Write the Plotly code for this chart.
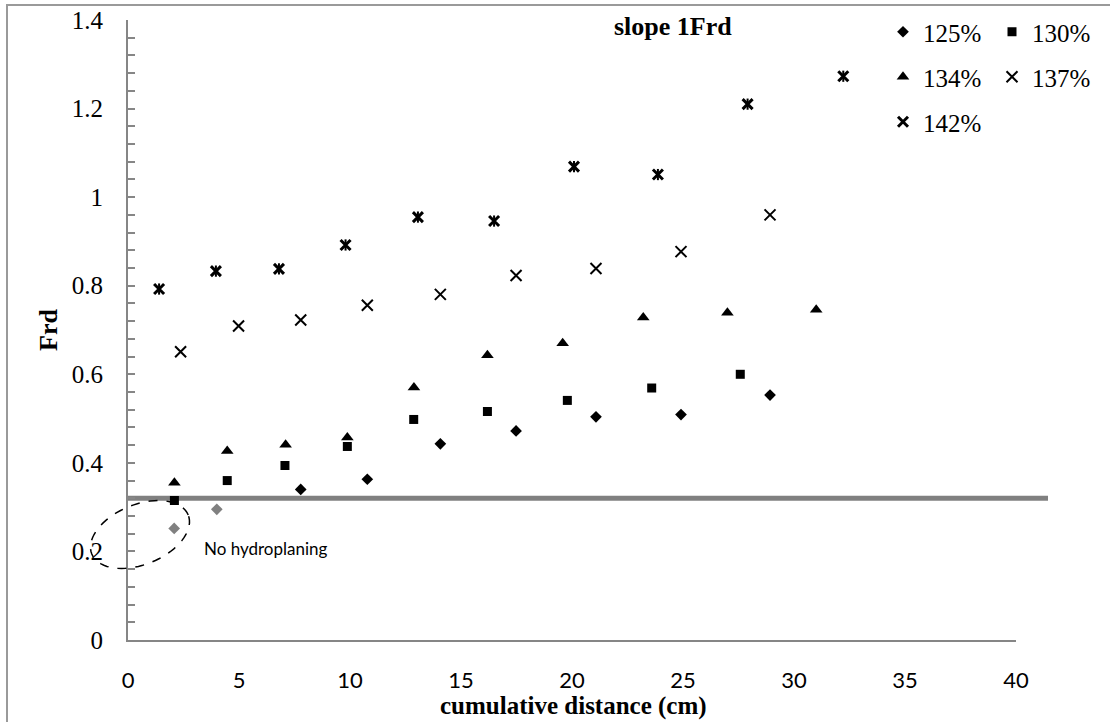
import math
import plotly.graph_objects as go

# ---------------- data ----------------
x125 = [2.08, 4.0, 7.78, 10.78, 14.07, 17.48, 21.08, 24.91, 28.92]
y125 = [0.252, 0.295, 0.340, 0.363, 0.443, 0.472, 0.504, 0.509, 0.553]
hydro125 = [False, False, True, True, True, True, True, True, True]

x130 = [2.09, 4.47, 7.07, 9.88, 12.87, 16.19, 19.79, 23.59, 27.58]
y130 = [0.315, 0.360, 0.394, 0.437, 0.498, 0.516, 0.541, 0.569, 0.600]

x134 = [2.09, 4.47, 7.10, 9.88, 12.88, 16.19, 19.58, 23.21, 27.00, 31.00]
y134 = [0.355, 0.427, 0.441, 0.457, 0.570, 0.643, 0.670, 0.728, 0.739, 0.746]

x137 = [2.37, 4.98, 7.78, 10.78, 14.07, 17.48, 21.08, 24.91, 28.92]
y137 = [0.651, 0.709, 0.7225, 0.756, 0.7805, 0.823, 0.839, 0.877, 0.960]

x142 = [1.40, 3.96, 6.80, 9.80, 13.06, 16.49, 20.09, 23.87, 27.91, 32.22]
y142 = [0.7925, 0.833, 0.838, 0.892, 0.955, 0.946, 1.069, 1.051, 1.210, 1.273]

threshold = 0.32

x_range = [0, 40]
y_range = [0, 1.4]

# ---------------- layout geometry ----------------
W, H = 1110, 722
ML, MR, MT, MB = 128, 94, 20, 82
PW, PH = W - ML - MR, H - MT - MB


def px2paper(px, py):
    return (px - ML) / PW, (H - MB - py) / PH


SERIF = "Liberation Serif, Times New Roman, serif"
SANS = "Lato, Calibri, sans-serif"

fig = go.Figure()

# 125 % : no-hydroplaning points in gray
fig.add_trace(go.Scatter(
    x=[x for x, h in zip(x125, hydro125) if not h],
    y=[y for y, h in zip(y125, hydro125) if not h],
    mode="markers", showlegend=False, hoverinfo="skip",
    marker=dict(symbol="diamond", size=9, color="#808080"),
))
fig.add_trace(go.Scatter(
    x=[x for x, h in zip(x125, hydro125) if h],
    y=[y for y, h in zip(y125, hydro125) if h],
    mode="markers", name="125%", legend="legend",
    marker=dict(symbol="diamond", size=9, color="black"),
))
fig.add_trace(go.Scatter(
    x=x130, y=y130, mode="markers", name="130%", legend="legend",
    marker=dict(symbol="square", size=9, color="black"),
))
fig.add_trace(go.Scatter(
    x=x134, y=y134, mode="markers", name="134%", legend="legend2",
    marker=dict(symbol="triangle-up", size=11, color="black"),
))
fig.add_trace(go.Scatter(
    x=x137, y=y137, mode="markers", name="137%", legend="legend2",
    marker=dict(symbol="x-thin-open", size=11, color="black",
                line=dict(color="black", width=2)),
))
fig.add_trace(go.Scatter(
    x=x142, y=y142, mode="markers", name="142%", legend="legend3",
    marker=dict(symbol="x-thin-open", size=10, color="black",
                line=dict(color="black", width=3)),
))
fig.add_trace(go.Scatter(
    x=x142, y=y142, mode="markers", showlegend=False, hoverinfo="skip",
    marker=dict(symbol="line-ns-open", size=8, color="black",
                line=dict(color="black", width=2)),
))

# ---------------- shapes ----------------
shapes = []
# outer chart frame
fx0, fy0 = px2paper(7, 730)
fx1, fy1 = px2paper(1125, 5)
shapes.append(dict(type="rect", xref="paper", yref="paper",
                   x0=fx0, y0=fy0, x1=fx1, y1=fy1,
                   line=dict(color="#9a9a9a", width=2), layer="below"))
# threshold line
lx1, _ = px2paper(1048, 0)
shapes.append(dict(type="line", xref="paper", yref="y",
                   x0=0, x1=lx1, y0=threshold, y1=threshold,
                   line=dict(color="#808080", width=5), layer="below"))
# dashed tilted ellipse around no-hydroplaning points
cx, cy, a, b, th = 140, 534.5, 52, 30, math.radians(22)
pts = []
for i in range(73):
    t = 2 * math.pi * i / 72
    ex = a * math.cos(t)
    ey = b * math.sin(t)
    px = cx + ex * math.cos(th) - ey * math.sin(th)
    py = cy - (ex * math.sin(th) + ey * math.cos(th))
    pts.append(px2paper(px, py))
path = "M " + " L ".join(f"{p[0]:.5f},{p[1]:.5f}" for p in pts) + " Z"
shapes.append(dict(type="path", xref="paper", yref="paper", path=path,
                   line=dict(color="black", width=1.5, dash="dash")))

# ---------------- annotations ----------------
ann = []
tx, ty = px2paper(673, 27)
ann.append(dict(text="<b>slope 1Frd</b>", x=tx, y=ty, xref="paper", yref="paper",
                showarrow=False, font=dict(family=SERIF, size=26, color="black"),
                xanchor="center", yanchor="middle"))
tx, ty = px2paper(573, 706)
ann.append(dict(text="<b>cumulative distance (cm)</b>", x=tx, y=ty, xref="paper",
                yref="paper", showarrow=False,
                font=dict(family=SERIF, size=25, color="black"),
                xanchor="center", yanchor="middle"))
tx, ty = px2paper(48, 330)
ann.append(dict(text="<b>Frd</b>", x=tx, y=ty, xref="paper", yref="paper",
                showarrow=False, textangle=-90,
                font=dict(family=SERIF, size=26, color="black"),
                xanchor="center", yanchor="middle"))
tx, ty = px2paper(202, 548)
ann.append(dict(text="No hydroplaning", x=tx, y=ty, xref="paper", yref="paper",
                showarrow=False, font=dict(family=SANS, size=17, color="black"),
                xanchor="left", yanchor="middle"))

# ---------------- legends ----------------
def legend_at(row_py):
    lx, ly = px2paper(883, row_py)
    return dict(orientation="h", x=lx, y=ly, xanchor="left", yanchor="middle",
                entrywidth=64, entrywidthmode="pixels",
                font=dict(family=SERIF, size=25, color="black"),
                bgcolor="rgba(0,0,0,0)", borderwidth=0, itemwidth=30)


fig.update_layout(
    width=W, height=H,
    margin=dict(l=ML, r=MR, t=MT, b=MB, autoexpand=False),
    paper_bgcolor="white", plot_bgcolor="white",
    showlegend=True,
    legend=legend_at(32),
    legend2=legend_at(77),
    legend3=legend_at(122),
    shapes=shapes,
    annotations=ann,
    xaxis=dict(range=x_range, dtick=5, tick0=0, showgrid=False, zeroline=False,
               showline=True, linecolor="#868686", linewidth=2, ticks="",
               tickfont=dict(family=SANS, size=22, color="black"),
               ticklabelstandoff=20, automargin=False),
    yaxis=dict(range=y_range, dtick=0.2, tick0=0, showgrid=False, zeroline=False,
               showline=True, linecolor="#868686", linewidth=2,
               ticks="inside", ticklen=7, tickwidth=2, tickcolor="#868686",
               minor=dict(dtick=0.04, ticks="inside", ticklen=7, tickwidth=2,
                          tickcolor="#868686", showgrid=False),
               tickfont=dict(family=SERIF, size=25, color="black"),
               ticklabelstandoff=18, automargin=False),
)

fig.write_html("out.html")
